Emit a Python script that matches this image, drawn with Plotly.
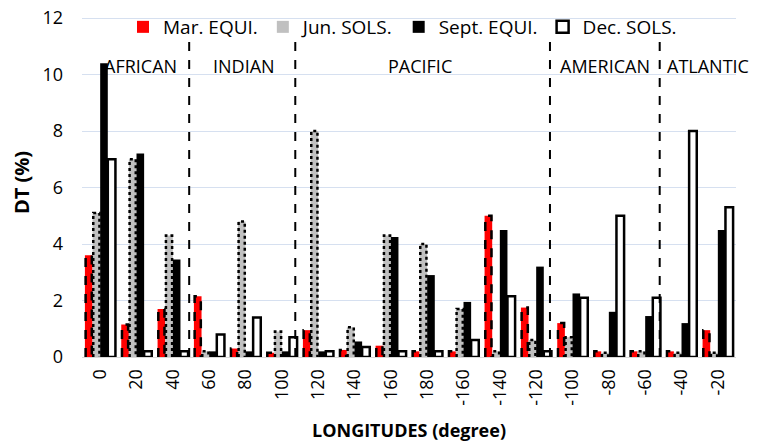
import plotly.graph_objects as go

longitudes = ["0", "20", "40", "60", "80", "100", "120", "140", "160", "180",
              "-160", "-140", "-120", "-100", "-80", "-60", "-40", "-20"]
mar_equi = [3.6, 1.15, 1.7, 2.15, 0.3, 0.15, 0.95, 0.25, 0.4, 0.2, 0.2, 5.0, 1.75, 1.2, 0.2, 0.2, 0.2, 0.95]
jun_sols = [5.1, 7.0, 4.3, 0.2, 4.8, 0.9, 8.0, 1.05, 4.3, 4.0, 1.7, 0.2, 0.6, 0.7, 0.15, 0.2, 0.15, 0.15]
sep_equi = [10.4, 7.2, 3.45, 0.2, 0.2, 0.2, 0.2, 0.55, 4.25, 2.9, 1.95, 4.5, 3.2, 2.25, 1.6, 1.45, 1.2, 4.5]
dec_sols = [7.0, 0.2, 0.2, 0.8, 1.4, 0.7, 0.2, 0.35, 0.2, 0.2, 0.6, 2.15, 0.2, 2.1, 5.0, 2.1, 8.0, 5.3]
regions = ["AFRICAN", "INDIAN", "PACIFIC", "AMERICAN", "ATLANTIC"]
region_pos = [1.1, 3.95, 8.8, 13.9, 16.72]
dividers = [2.45, 5.37, 12.38, 15.4]

FONT = "Open Sans, Lato, sans-serif"
idx = list(range(len(longitudes)))
w = 0.21
offsets = [-2 * w, -w, 0, w]

fig = go.Figure()

series = [
    ("Mar. EQUI.", mar_equi, "#ff0000", "dash"),
    ("Jun. SOLS.", jun_sols, "#c0c0c0", "dot"),
    ("Sept. EQUI.", sep_equi, "#000000", "solid"),
    ("Dec. SOLS.", dec_sols, "#ffffff", "solid"),
]

for (name, vals, color, dash), off in zip(series, offsets):
    fig.add_trace(go.Bar(
        x=idx, y=vals, name=name, width=w, offset=off,
        marker=dict(color=color, line=dict(color="black", width=2.5 if color == "#ffffff" else 0)),
    ))
    if dash in ("dash", "dot"):
        xs, ys = [], []
        for i, v in zip(idx, vals):
            x0 = i + off + 0.02
            x1 = i + off + w - 0.02
            xs += [x0, x0, x1, x1, None]
            ys += [0, v, v, 0, None]
        fig.add_trace(go.Scatter(
            x=xs, y=ys, mode="lines", showlegend=False, hoverinfo="skip",
            line=dict(color="black", width=2.5, dash=dash),
        ))

for d in dividers:
    fig.add_shape(type="line", x0=d, x1=d, y0=0, y1=11.3, xref="x", yref="y",
                  line=dict(color="black", width=2, dash="dash"))

for r, p in zip(regions, region_pos):
    fig.add_annotation(x=p, y=10.3, text=r, showarrow=False, xref="x", yref="y",
                       font=dict(size=18, color="black", family=FONT))

fig.update_layout(
    width=750, height=434,
    margin=dict(l=74, r=22, t=0, b=85),
    plot_bgcolor="white", paper_bgcolor="white",
    font=dict(family=FONT, size=18, color="black"),
    barmode="overlay",
    legend=dict(orientation="h", x=0.0627, xanchor="left",
                y=1.0, yanchor="top",
                bgcolor="rgba(0,0,0,0)", font=dict(size=19), itemwidth=30,
                traceorder="normal"),
    xaxis=dict(
        range=[-0.5, 17.5], tickmode="array", tickvals=idx, ticktext=longitudes,
        tickangle=-90, showgrid=False, zeroline=False, automargin=False,
        showline=True, linecolor="#d9d9d9", linewidth=1, ticklabelstandoff=4,
        title=dict(text="<b>LONGITUDES (degree)</b>", font=dict(size=18), standoff=20),
        tickfont=dict(size=18),
    ),
    yaxis=dict(
        range=[0, 12.354], tickvals=[0, 2, 4, 6, 8, 10, 12], showgrid=True,
        gridcolor="#d6e0f0", gridwidth=1, zeroline=False, automargin=False,
        ticklabelstandoff=18, ticklabeloverflow="allow",
        title=dict(text="<b>DT (%)</b>", font=dict(size=20), standoff=8),
        tickfont=dict(size=18),
    ),
)

fig.write_html("out.html")
